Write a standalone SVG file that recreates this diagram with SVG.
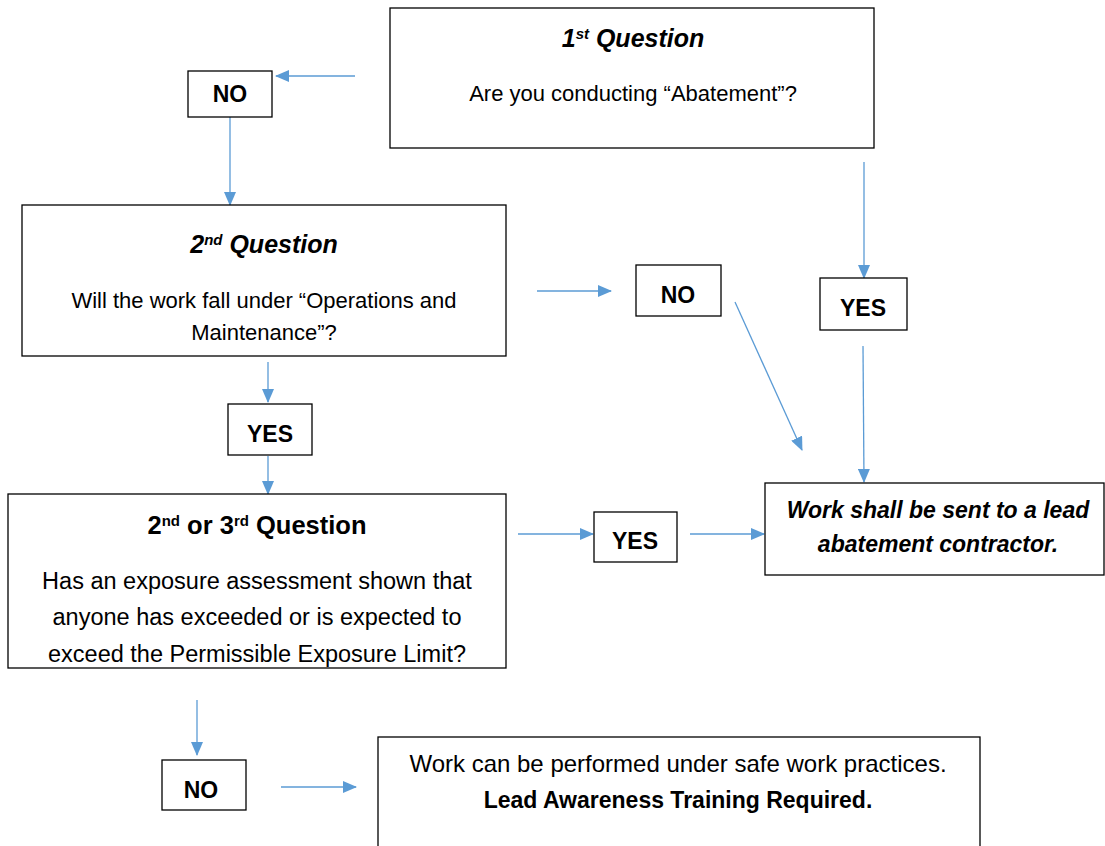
<svg xmlns="http://www.w3.org/2000/svg" width="1105" height="846" viewBox="0 0 1105 846">
<defs>
<marker id="ah" markerWidth="14" markerHeight="12" refX="13" refY="6" orient="auto" markerUnits="userSpaceOnUse" viewBox="0 0 14 12">
<path d="M0,0 L14,6 L0,12 Z" fill="#5B9BD5"/>
</marker>
<style>
.box{fill:#fff;stroke:#000;stroke-width:1.3}
.c line{stroke:#5B9BD5;stroke-width:1.3;marker-end:url(#ah)}
text{font-family:"Liberation Sans",Arial,sans-serif;fill:#000;text-anchor:middle}
.h{font-weight:bold;font-style:italic;font-size:25px}
.hb{font-weight:bold;font-size:25.5px}
.lbl{font-weight:bold;font-size:23px}
.t{font-size:22px}
.t3{font-size:23.5px}
.t4{font-size:24px}
.tb{font-size:23px;font-weight:bold}
.r{font-weight:bold;font-style:italic;font-size:23px}
.sup{font-size:15px}
</style>
</defs>
<g class="c" id="connectors">
<line x1="355" y1="76" x2="276" y2="76"/>
<line x1="230" y1="117" x2="230" y2="205"/>
<line x1="537" y1="291" x2="611" y2="291"/>
<line x1="735" y1="302" x2="802" y2="450"/>
<line x1="864" y1="162" x2="864" y2="278"/>
<line x1="863" y1="346" x2="864" y2="482"/>
<line x1="268" y1="362" x2="268" y2="402"/>
<line x1="268" y1="456" x2="268" y2="494"/>
<line x1="518" y1="534" x2="593" y2="534"/>
<line x1="690" y1="534" x2="764" y2="534"/>
<line x1="197" y1="700" x2="197" y2="755"/>
<line x1="281" y1="787" x2="356" y2="787"/>
</g>
<g id="q1">
<rect class="box" x="390" y="8" width="484" height="140"/>
<text class="h" x="633" y="47">1<tspan class="sup" baseline-shift="super">st</tspan> Question</text>
<text class="t" x="633" y="101">Are you conducting “Abatement”?</text>
</g>
<g id="no1">
<rect class="box" x="188" y="71" width="84" height="46"/>
<text class="lbl" x="230" y="102">NO</text>
</g>
<g id="q2">
<rect class="box" x="22" y="205" width="484" height="151"/>
<text class="h" x="264" y="253">2<tspan class="sup" baseline-shift="super">nd</tspan> Question</text>
<text class="t" x="264" y="308">Will the work fall under “Operations and</text>
<text class="t" x="264" y="340">Maintenance”?</text>
</g>
<g id="no2">
<rect class="box" x="636" y="265" width="85" height="51"/>
<text class="lbl" x="678" y="303">NO</text>
</g>
<g id="yes1">
<rect class="box" x="820" y="278" width="87" height="52"/>
<text class="lbl" x="863" y="316">YES</text>
</g>
<g id="yes2">
<rect class="box" x="228" y="404" width="84" height="51"/>
<text class="lbl" x="270" y="442">YES</text>
</g>
<g id="q3">
<rect class="box" x="8" y="494" width="498" height="174"/>
<text class="hb" x="257" y="534">2<tspan class="sup" baseline-shift="super">nd</tspan> or 3<tspan class="sup" baseline-shift="super">rd</tspan> Question</text>
<text class="t3" x="257" y="589">Has an exposure assessment shown that</text>
<text class="t3" x="257" y="625">anyone has exceeded or is expected to</text>
<text class="t3" x="257" y="662">exceed the Permissible Exposure Limit?</text>
</g>
<g id="yes3">
<rect class="box" x="594" y="512" width="83" height="50"/>
<text class="lbl" x="635" y="549">YES</text>
</g>
<g id="result">
<rect class="box" x="765" y="483" width="339" height="92"/>
<text class="r" x="938" y="518">Work shall be sent to a lead</text>
<text class="r" x="938" y="552">abatement contractor.</text>
</g>
<g id="no3">
<rect class="box" x="162" y="760" width="84" height="50"/>
<text class="lbl" x="201" y="798">NO</text>
</g>
<g id="safe">
<rect class="box" x="378" y="737" width="602" height="120"/>
<text class="t4" x="678" y="772">Work can be performed under safe work practices.</text>
<text class="tb" x="678" y="808">Lead Awareness Training Required.</text>
</g>
</svg>
